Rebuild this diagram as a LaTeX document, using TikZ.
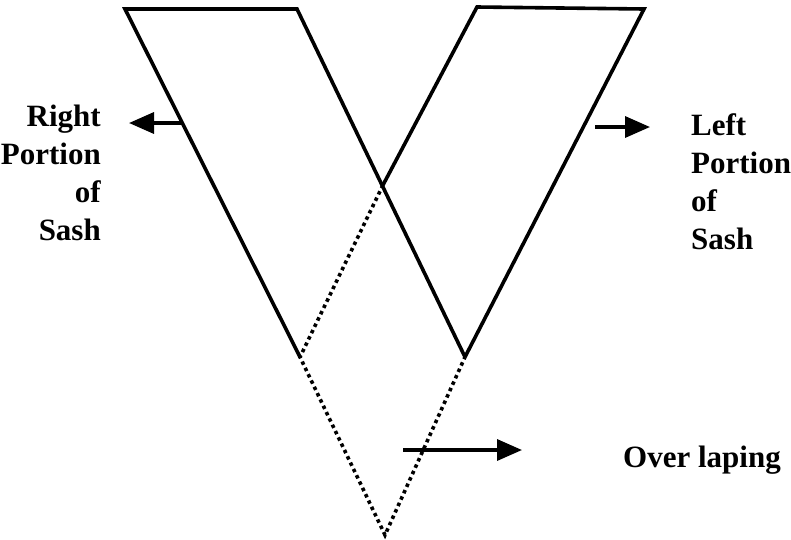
\documentclass[tikz,border=0pt]{standalone}
\usepackage{fontspec}
\setmainfont{Liberation Serif}
\usetikzlibrary{arrows.meta}
\begin{document}
\begin{tikzpicture}[x=1pt,y=-1pt,
  sash/.style={line width=3.6pt, line join=miter},
  overlap/.style={line width=3.6pt, dash pattern=on 3.5pt off 3.5pt},
  pointer/.style={line width=3.4pt, -{Triangle[length=25pt,width=21pt]}},
  txt/.style={font=\fontsize{31}{38}\selectfont\bfseries, inner sep=0pt}]
\useasboundingbox (0,0) rectangle (791,539);
% corners
\coordinate (L1) at (125,9);
\coordinate (L2) at (297,9);
\coordinate (L3) at (465,357);
\coordinate (L4) at (300,357);
\coordinate (R1) at (477,7);
\coordinate (R2) at (644,9);
\coordinate (X)  at (383,185);
\coordinate (B)  at (385,535);
% sashes
\draw[sash] (L4) -- (L1) -- (L2) -- (L3);
\draw[sash] (X) -- (R1) -- (R2) -- (L3);
% overlap
\draw[overlap] (X) -- (L4) -- (B) -- (L3);
% labels
\node[txt, align=right, anchor=north east] (rp) at (101,105) {Right\\Portion\\of\\Sash};
\node[txt, align=left, anchor=north west] (lp) at (691,113) {Left\\Portion\\of\\Sash};
\node[txt, anchor=base west] (ov) at (623,467) {Over laping};
% arrows
\coordinate (a1) at (183,123);
\coordinate (a1t) at (129,123);
\coordinate (a2) at (595,127);
\coordinate (a2t) at (650,127);
\coordinate (a3) at (403,450);
\coordinate (a3t) at (522,450);
\draw[pointer] (a1) -- (a1t);
\draw[pointer] (a2) -- (a2t);
\draw[pointer] (a3) -- (a3t);
\end{tikzpicture}
\end{document}
